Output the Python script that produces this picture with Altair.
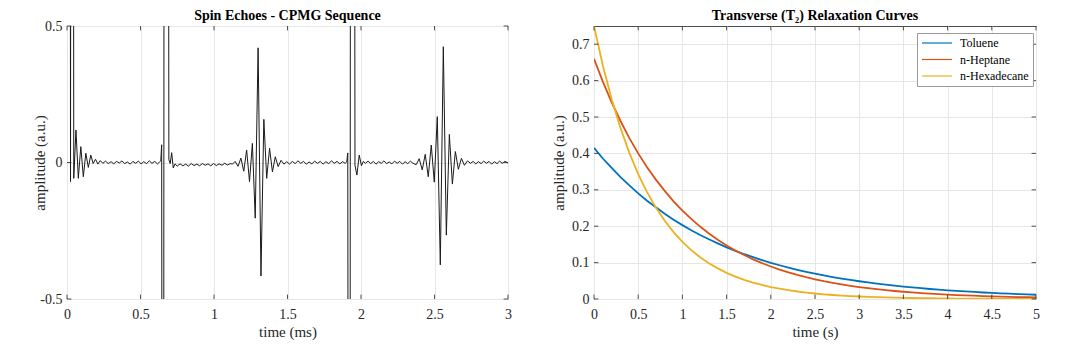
import altair as alt
import pandas as pd

FONT = "Liberation Serif"

# ---------------- Spin echo (CPMG) signal ----------------
echo_time = [
    0.000, 0.020, 0.024, 0.028, 0.042, 0.046, 0.061, 0.077, 0.094, 0.111, 0.128, 0.145, 0.162, 0.178, 0.194, 0.210, 0.226,
    0.244, 0.262, 0.281, 0.300, 0.318, 0.337, 0.356, 0.374, 0.392, 0.411, 0.430, 0.448, 0.467, 0.485, 0.504, 0.522, 0.541, 0.560, 0.578, 0.597, 0.615, 0.630,
    0.638, 0.644, 0.650, 0.656, 0.662, 0.687, 0.693, 0.702, 0.712, 0.723, 0.735,
    0.750, 0.769, 0.788, 0.807, 0.826, 0.845, 0.864, 0.883, 0.902, 0.921, 0.940, 0.959, 0.978, 0.997, 1.016, 1.035, 1.054, 1.073, 1.092, 1.111, 1.126,
    1.144, 1.1635, 1.183, 1.2025, 1.222, 1.2415, 1.261, 1.2805, 1.300, 1.3195, 1.339, 1.3585, 1.378, 1.3975, 1.417, 1.4365, 1.456, 1.4755,
    1.495, 1.514, 1.533, 1.552, 1.571, 1.590, 1.609, 1.628, 1.647, 1.666, 1.685, 1.704, 1.723, 1.742, 1.761, 1.780, 1.799, 1.818, 1.837, 1.856, 1.875, 1.892,
    1.903, 1.910, 1.917, 1.924, 1.930, 1.953, 1.959, 1.972, 1.988, 2.003, 2.016,
    2.030, 2.048, 2.066, 2.084, 2.102, 2.120, 2.138, 2.156, 2.174, 2.192, 2.210, 2.228, 2.246, 2.264, 2.282, 2.300, 2.318, 2.336, 2.354,
    2.3755, 2.396, 2.4165, 2.437, 2.4575, 2.478, 2.4985, 2.519, 2.5395, 2.560, 2.5805, 2.601, 2.6215, 2.642, 2.6625, 2.683, 2.7035, 2.724,
    2.745, 2.763, 2.781, 2.799, 2.817, 2.835, 2.853, 2.871, 2.889, 2.907, 2.925, 2.943, 2.961, 2.979, 3.000,
]
echo_amp = [
    3.0, 3.0, -0.07, 3.0, 3.0, -0.058, 0.119, -0.058, 0.058, -0.052, 0.034, -0.018, 0.027, -0.004, 0.012, -0.006, 0.007,
    -0.003, 0.005, -0.004, 0.003, -0.005, 0.004, -0.002, 0.006, -0.004, 0.002, -0.006, 0.004, -0.003, 0.005, -0.005, 0.003, -0.004, 0.006, -0.003, 0.004, -0.005, 0.002,
    0.006, 0.065, -3.0, -3.0, 3.0, 3.0, 0.010, -0.004, 0.036, -0.020, -0.005,
    -0.013, -0.005, -0.012, -0.006, -0.013, -0.004, -0.011, -0.006, -0.012, -0.004, -0.010, -0.005, -0.012, -0.004, -0.011, -0.005, -0.010, -0.003, -0.009, -0.004, -0.006,
    0.004, -0.014, 0.016, -0.032, 0.046, -0.070, 0.070, -0.204, 0.420, -0.416, 0.158, -0.058, 0.052, -0.034, 0.021, -0.015, 0.008, -0.006,
    0.003, -0.006, 0.004, -0.004, 0.006, -0.003, 0.004, -0.006, 0.002, -0.005, 0.005, -0.003, 0.004, -0.006, 0.003, -0.004, 0.006, -0.003, 0.004, -0.005, 0.003, -0.003,
    0.002, 0.035, -3.0, -3.0, 3.0, 3.0, -0.010, -0.046, 0.027, -0.012, 0.004,
    -0.003, 0.005, -0.004, 0.004, -0.006, 0.003, -0.003, 0.006, -0.004, 0.002, -0.005, 0.005, -0.003, 0.004, -0.006, 0.003, -0.004, 0.005, -0.003,
    -0.008, 0.014, -0.027, 0.030, -0.052, 0.064, -0.072, 0.168, -0.375, 0.424, -0.266, 0.103, -0.079, 0.040, -0.025, 0.015, -0.010, 0.006,
    -0.003, 0.004, -0.005, 0.003, -0.004, 0.005, -0.003, 0.004, -0.006, 0.003, -0.004, 0.005, -0.003, 0.004, -0.002,
]

# ---------------- T2 relaxation curves ----------------
relax_time = [round(i * 0.1, 1) for i in range(51)]
toluene = [
    0.415, 0.386, 0.360, 0.335, 0.312, 0.290, 0.270, 0.252, 0.234, 0.218, 0.203,
    0.189, 0.176, 0.164, 0.153, 0.142, 0.132, 0.123, 0.115, 0.107, 0.0995,
    0.0927, 0.0863, 0.0803, 0.0748, 0.0697, 0.0649, 0.0604, 0.0562, 0.0524, 0.0488,
    0.0454, 0.0423, 0.0394, 0.0366, 0.0341, 0.0318, 0.0296, 0.0275, 0.0256, 0.0239,
    0.0222, 0.0207, 0.0193, 0.0179, 0.0167, 0.0156, 0.0145, 0.0135, 0.0126, 0.0117,
]
heptane = [
    0.660, 0.597, 0.540, 0.489, 0.442, 0.400, 0.362, 0.328, 0.297, 0.268, 0.243,
    0.220, 0.199, 0.180, 0.163, 0.147, 0.133, 0.121, 0.109, 0.0987, 0.0893,
    0.0808, 0.0731, 0.0662, 0.0599, 0.0542, 0.0490, 0.0444, 0.0401, 0.0363, 0.0329,
    0.0297, 0.0269, 0.0243, 0.0220, 0.0199, 0.0180, 0.0163, 0.0148, 0.0134, 0.0121,
    0.0109, 0.0099, 0.0090, 0.0081, 0.0073, 0.0066, 0.0060, 0.0054, 0.0049, 0.0045,
]
hexadecane = [
    0.750, 0.6415, 0.5487, 0.4693, 0.4014, 0.3433, 0.2936, 0.2511, 0.2148, 0.1837, 0.1571,
    0.1344, 0.1149, 0.0983, 0.0841, 0.0719, 0.0615, 0.0526, 0.0450, 0.0385, 0.0329,
    0.0282, 0.0241, 0.0206, 0.0176, 0.0151, 0.0129, 0.0110, 0.0094, 0.0081, 0.0069,
    0.0059, 0.0050, 0.0043, 0.0037, 0.0032, 0.0027, 0.0023, 0.0020, 0.0017, 0.0015,
    0.0013, 0.0011, 0.0009, 0.0008, 0.0007, 0.0006, 0.0005, 0.0004, 0.0004, 0.0003,
]
series_names = ["Toluene", "n-Heptane", "n-Hexadecane"]
series_colors = ["#0072BD", "#D95319", "#EDB120"]

left_xticks = [0, 0.5, 1, 1.5, 2, 2.5, 3]
left_yticks = [-0.5, 0, 0.5]
right_xticks = [0, 0.5, 1, 1.5, 2, 2.5, 3, 3.5, 4, 4.5, 5]
right_yticks = [0, 0.1, 0.2, 0.3, 0.4, 0.5, 0.6, 0.7]

W1, W2, H = 441, 442, 273
TL = 4.4
TICK_COLOR = "#262626"
LBL = "replace(format(datum.value, '~g'), '\u2212', '-')"


def inner_ticks(xt, yt, xf, yf, w, h):
    dx = pd.DataFrame({xf: xt})
    dy = pd.DataFrame({yf: yt})
    kw = dict(color=TICK_COLOR, strokeWidth=0.8)
    return [
        alt.Chart(dx).mark_rule(**kw).encode(x=alt.X(f"{xf}:Q", axis=None), y=alt.value(h), y2=alt.value(h - TL)),
        alt.Chart(dx).mark_rule(**kw).encode(x=alt.X(f"{xf}:Q", axis=None), y=alt.value(0), y2=alt.value(TL)),
        alt.Chart(dy).mark_rule(**kw).encode(y=alt.Y(f"{yf}:Q", axis=None), x=alt.value(0), x2=alt.value(TL)),
        alt.Chart(dy).mark_rule(**kw).encode(y=alt.Y(f"{yf}:Q", axis=None), x=alt.value(w), x2=alt.value(w - TL)),
    ]


def x_axis(vals, title):
    return alt.Axis(values=vals, labelExpr=LBL, title=title, grid=True, ticks=False, domain=False,
                    labelPadding=8, titlePadding=3, labelFlush=False, labelOverlap=False)


def y_axis(vals, title, extent):
    return alt.Axis(values=vals, labelExpr=LBL, title=title, grid=True, ticks=False, domain=False,
                    labelPadding=5, titlePadding=4, labelFlush=False, labelOverlap=False,
                    minExtent=extent, maxExtent=extent)


def panel_title(text, off):
    return alt.TitleParams(text, font=FONT, fontSize=14, fontWeight="bold", color="black",
                           offset=off, baseline="alphabetic", anchor="middle")


# ---------------- left panel ----------------
echo_df = pd.DataFrame({"t": echo_time, "amp": echo_amp})
left_line = alt.Chart(echo_df).mark_line(color="#1a1a1a", strokeWidth=1, clip=True).encode(
    x=alt.X("t:Q", scale=alt.Scale(domain=[0, 3], nice=False, zero=False), axis=x_axis(left_xticks, "time (ms)")),
    y=alt.Y("amp:Q", scale=alt.Scale(domain=[-0.5, 0.5], nice=False, zero=False),
            axis=y_axis(left_yticks, "amplitude (a.u.)", 16)),
    order=alt.Order("t:Q"),
)
left = alt.layer(left_line, *inner_ticks(left_xticks, left_yticks, "t", "amp", W1, H)).resolve_axis(
    x="independent", y="independent"
).properties(
    width=W1, height=H, title=panel_title("Spin Echoes - CPMG Sequence", -14.5),
)

# ---------------- right panel ----------------
rows = []
for name, vals in zip(series_names, [toluene, heptane, hexadecane]):
    for t, v in zip(relax_time, vals):
        rows.append({"t": t, "amp": v, "series": name})
relax_df = pd.DataFrame(rows)

right_lines = alt.Chart(relax_df).mark_line(strokeWidth=1.8, clip=True).encode(
    x=alt.X("t:Q", scale=alt.Scale(domain=[0, 5], nice=False, zero=False), axis=x_axis(right_xticks, "time (s)")),
    y=alt.Y("amp:Q", scale=alt.Scale(domain=[0, 0.75], nice=False, zero=False),
            axis=y_axis(right_yticks, "amplitude (a.u.)", 24)),
    color=alt.Color("series:N", sort=series_names,
                    scale=alt.Scale(domain=series_names, range=series_colors),
                    legend=alt.Legend(title=None, orient="none", legendX=850, legendY=7,
                                      symbolType="M-1,0H5", symbolSize=100, symbolStrokeWidth=1.2,
                                      labelFont=FONT, labelFontSize=12, labelColor="black",
                                      strokeColor="#9a9a9a", fillColor="white", padding=4,
                                      rowPadding=4.5, labelOffset=27)),
    order=alt.Order("t:Q"),
)
right = alt.layer(right_lines, *inner_ticks(right_xticks, right_yticks, "t", "amp", W2, H)).resolve_axis(
    x="independent", y="independent"
).properties(
    width=W2, height=H, title=panel_title("Transverse (T\u2082) Relaxation Curves", -8),
)

chart = alt.hconcat(left, right, spacing=38).properties(
    padding={"left": 23, "top": 0, "right": 5, "bottom": 5},
    background="white",
).configure_view(stroke="#4d4d4d", strokeWidth=1).configure_axis(
    labelFont=FONT, titleFont=FONT, labelFontSize=14, titleFontSize=15,
    labelColor="#262626", titleColor="#262626", titleFontWeight="normal",
    gridColor="#e6e6e6", gridWidth=1,
)

chart.save("out.html", embed_options={"renderer": "svg", "actions": False})
